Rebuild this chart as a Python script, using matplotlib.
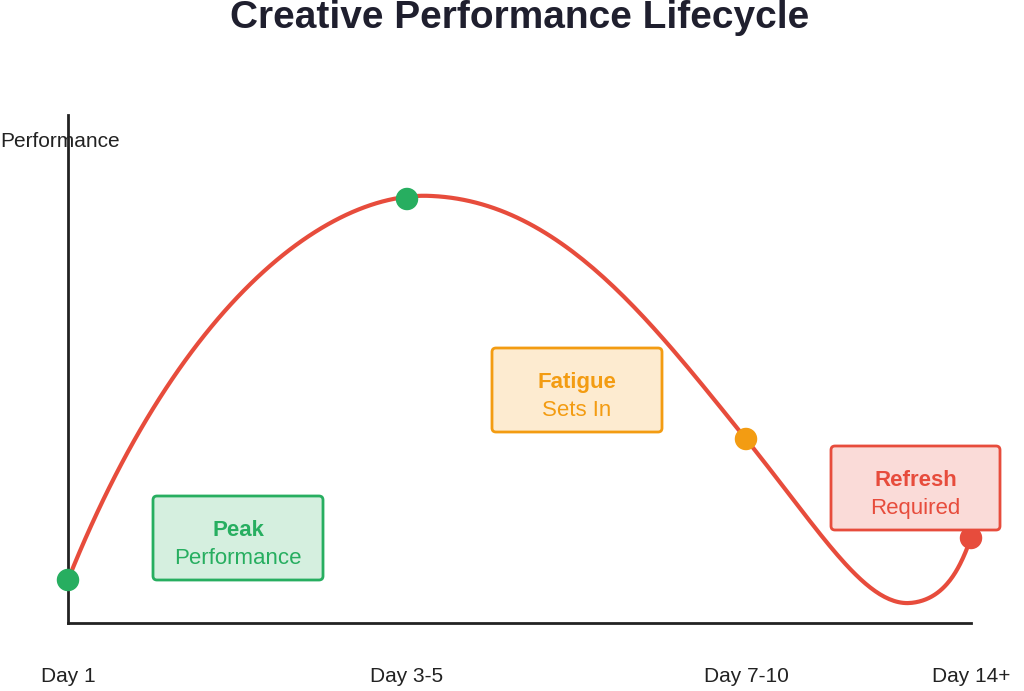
#!/usr/bin/env python3
"""Creative performance lifecycle: smooth curve with stage boxes."""

import numpy as np
import matplotlib.pyplot as plt
from matplotlib.patches import FancyBboxPatch

plt.rcParams["font.family"] = ["Liberation Sans", "DejaVu Sans"]

# -- data (canvas pixel units) -------------------------------------------------
# cubic bezier segments: start, ctrl1, ctrl2, end
segments = [
    [(68, 580), (180, 300), (330, 190), (432, 196)],
    [(432, 196), (560, 202), (650, 320), (746, 439)],
    [(746, 439), (820, 531), (865, 606), (910, 603)],
    [(910, 603), (948, 600), (962, 562), (971, 538)],
]
marker_x = [68, 407, 746, 971]
marker_y = [580, 199, 439, 538]
marker_colors = ["#27ae60", "#27ae60", "#f39c12", "#e74c3c"]
day_labels = ["Day 1", "Day 3-5", "Day 7-10", "Day 14+"]
day_pos = [68, 407, 746, 971]

boxes = [
    # x0, y0, x1, y1, title, subtitle, fill, edge
    (153, 496, 323, 580, "Peak", "Performance", "#d5efdf", "#27ae60"),
    (492, 348, 662, 432, "Fatigue", "Sets In", "#fdebd0", "#f39c12"),
    (831, 446, 1000, 530, "Refresh", "Required", "#fadbd8", "#e74c3c"),
]


def bezier(seg, n=60):
    p0, p1, p2, p3 = [np.array(p, float) for p in seg]
    t = np.linspace(0, 1, n)[:, None]
    pts = ((1 - t) ** 3 * p0 + 3 * (1 - t) ** 2 * t * p1
           + 3 * (1 - t) * t ** 2 * p2 + t ** 3 * p3)
    return pts[:, 0], pts[:, 1]


# -- figure -------------------------------------------------------------------
fig = plt.figure(figsize=(10.24, 6.91), dpi=100)
ax = fig.add_axes([0, 0, 1, 1])
ax.set_xlim(0, 1024)
ax.set_ylim(691, 0)
ax.axis("off")

ax.text(520, 18, "Creative Performance Lifecycle", ha="center", va="center",
        fontsize=28, fontweight="bold", color="#1f1f2e")

# axes lines
ax.plot([68, 68], [115, 623], color="#222222", lw=2)
ax.plot([68, 971], [623, 623], color="#222222", lw=2)
ax.text(0, 141, "Performance", ha="left", va="center", fontsize=15, color="#222222")
for lab, x in zip(day_labels, day_pos):
    ax.text(x, 676, lab, ha="center", va="center", fontsize=15, color="#222222")

xs, ys = [], []
for seg in segments:
    bx, by = bezier(seg)
    xs.extend(bx)
    ys.extend(by)
ax.plot(xs, ys, color="#e74c3c", lw=3, zorder=2, solid_capstyle="round")
ax.scatter(marker_x, marker_y, s=230, c=marker_colors, zorder=3)

for x0, y0, x1, y1, title, sub, fill, edge in boxes:
    ax.add_patch(FancyBboxPatch((x0, y0), x1 - x0, y1 - y0,
                                boxstyle="round,pad=0,rounding_size=4",
                                facecolor=fill, edgecolor=edge, lw=2, zorder=4))
    cx = (x0 + x1) / 2
    ax.text(cx, y0 + 0.41 * (y1 - y0), title, ha="center", va="center",
            fontsize=16, fontweight="bold", color=edge, zorder=5)
    ax.text(cx, y0 + 0.74 * (y1 - y0), sub, ha="center", va="center",
            fontsize=16, color=edge, zorder=5)

fig.savefig("out.png", dpi=100)
plt.close(fig)
